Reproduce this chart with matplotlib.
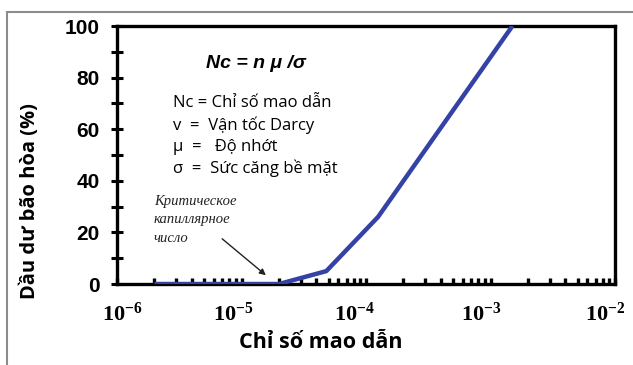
import matplotlib
matplotlib.use("Agg")
import matplotlib.pyplot as plt
from matplotlib.patches import Rectangle
from matplotlib.transforms import ScaledTranslation
from matplotlib.ticker import FixedLocator, LogLocator, MultipleLocator

# capillary number vs residual oil saturation
nc_values = [2.0e-6, 2.0e-5, 4.8e-5, 1.25e-4, 1.5e-3]
sor_values = [0, 0, 5, 26, 100]

x_ticks = [1e-6, 1e-5, 1e-4, 1e-3, 1e-2]
x_ticklabels = ["$10^{-6}$", "$10^{-5}$", "$10^{-4}$", "$10^{-3}$", "$10^{-2}$"]
y_ticks = [0, 20, 40, 60, 80, 100]

legend_lines = ["Nc = Chỉ số mao dẫn", "v  =  Vận tốc Darcy",
                "μ  =   Độ nhớt", "σ  =  Sức căng bề mặt"]
ru_lines = ["Критическое", "капиллярное", "число"]

plt.rcParams['mathtext.fontset'] = 'custom'
plt.rcParams['mathtext.rm'] = 'Liberation Serif:bold'
plt.rcParams['mathtext.it'] = 'Liberation Serif:bold'
plt.rcParams['mathtext.bf'] = 'Liberation Serif:bold'

fig = plt.figure(figsize=(6.33, 3.65), dpi=100)
W, H = 633, 365

# grey frame around the picture (top and left edges visible)
fig.patches.append(Rectangle((7 / W, -0.1), 1.2, 1 - 12 / H + 0.1,
                             transform=fig.transFigure, fill=False,
                             edgecolor="#8c8c8c", linewidth=1.5))

ax = fig.add_axes([117 / W, 1 - 284 / H, (615 - 117) / W, (284 - 26) / H])
ax.plot(nc_values, sor_values, color="#3442a6", linewidth=3.2,
        solid_capstyle="butt", zorder=3)

ax.set_xscale("log")
ax.set_xlim(1e-6, 1e-2)
ax.set_ylim(0, 100)

for s in ax.spines.values():
    s.set_linewidth(2.4)

ax.xaxis.set_major_locator(FixedLocator(x_ticks))
ax.xaxis.set_minor_locator(LogLocator(base=10, subs=range(2, 10), numticks=20))
ax.set_xticklabels(x_ticklabels, fontsize=16)
ax.tick_params(axis="x", which="both", direction="in", length=4, width=2.4, pad=13)
# labels in the original sit a little off their ticks
shifts = [5, -8, -12, -9, -10]
for lab, dx in zip(ax.get_xticklabels(), shifts):
    lab.set_transform(lab.get_transform() +
                      ScaledTranslation(dx / 100, 0, fig.dpi_scale_trans))

ax.set_yticks(y_ticks)
ax.yaxis.set_minor_locator(MultipleLocator(10))
ax.tick_params(axis="y", which="both", direction="inout", length=9, width=2.2, pad=8)
for lab in ax.get_yticklabels():
    lab.set_fontfamily("Liberation Sans")
    lab.set_fontweight("bold")
    lab.set_fontsize(15)

fig.text(30 / W, 1 - 201 / H, "Dầu dư bão hòa (%)", rotation=90,
         ha="center", va="center", fontsize=14.5, fontweight="bold",
         family="Open Sans")
fig.text(321 / W, 1 - 343 / H, "Chỉ số mao dẫn", ha="center", va="center",
         fontsize=15.5, fontweight="bold", family="Open Sans")

fig.text(256 / W, 1 - 63 / H, "Nc = n μ /σ", ha="center", va="center",
         fontsize=14, fontweight="bold", fontstyle="italic",
         family="Liberation Sans")

y_leg = [103, 125, 147, 168]
for txt, yy in zip(legend_lines, y_leg):
    fig.text(173 / W, 1 - yy / H, txt, ha="left", va="center",
             fontsize=12, family="Open Sans")

y_ru = [202, 220, 238]
for txt, yy in zip(ru_lines, y_ru):
    fig.text(154 / W, 1 - yy / H, txt, ha="left", va="center",
             fontsize=10.5, fontstyle="italic", family="Liberation Serif",
             color="#222222")

fig.add_artist(matplotlib.patches.FancyArrowPatch(
    (220 / W, 1 - 237 / H), (268 / W, 1 - 277 / H),
    transform=fig.transFigure, arrowstyle="-|>", mutation_scale=9,
    color="#222222", linewidth=1.0))

plt.savefig("out.png", dpi=100)
plt.close('all')
